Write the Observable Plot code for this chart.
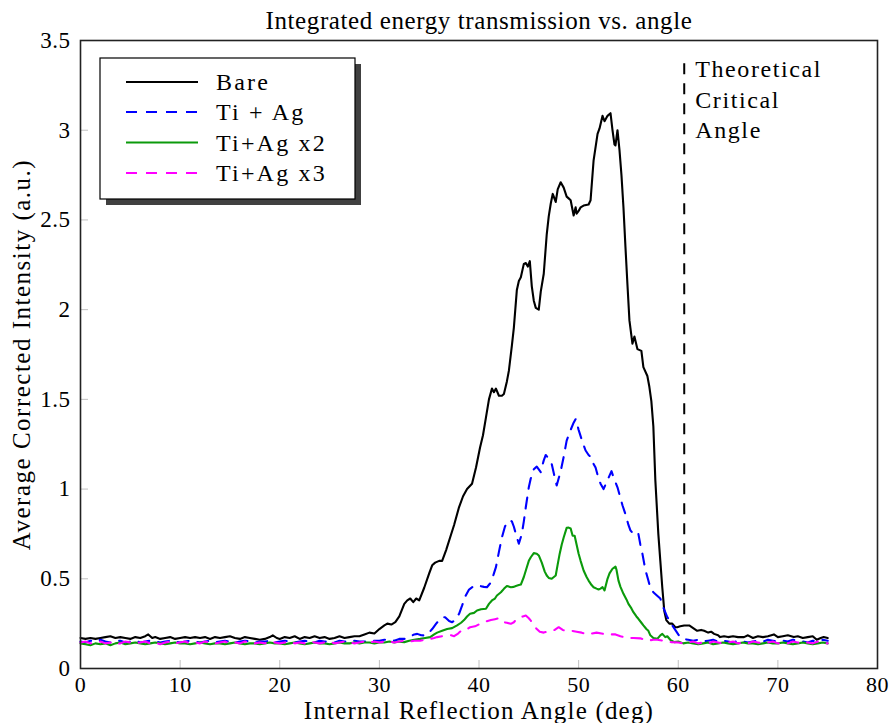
<!DOCTYPE html>
<html>
<head>
<meta charset="utf-8">
<script src="https://cdn.jsdelivr.net/npm/d3@7"></script>
<script src="https://cdn.jsdelivr.net/npm/@observablehq/plot@0.6"></script>
<style>
  html, body { margin: 0; padding: 0; background: #fff; }
  #wrap { position: relative; width: 890px; height: 723px; }
  #wrap svg { position: absolute; left: 0; top: 0; }
  text { letter-spacing: 0.5px; }
</style>
</head>
<body>
<div id="wrap"></div>
<script>
// ---------- data ----------
const titleText = "Integrated energy transmission vs. angle";
const xLabel = "Internal Reflection Angle (deg)";
const yLabel = "Average Corrected Intensity (a.u.)";
const xTicks = [0, 10, 20, 30, 40, 50, 60, 70, 80];
const yTicks = [0, 0.5, 1, 1.5, 2, 2.5, 3, 3.5];
const seriesNames = ["Bare", "Ti + Ag", "Ti+Ag x2", "Ti+Ag x3"];
const criticalAngle = 60.6;
const criticalSpan = [0.3, 3.4];
const criticalText = "Theoretical\nCritical\nAngle";

const bare = [
[0,0.17],[0.5,0.165],[1,0.17],[1.5,0.165],[2,0.17],[2.5,0.175],[3,0.18],[3.5,0.17],[4,0.175],[4.5,0.17],
[5,0.165],[5.5,0.175],[6,0.17],[6.5,0.18],[6.8,0.19],[7.2,0.17],[7.5,0.175],[8,0.165],[8.5,0.17],[9,0.175],
[9.5,0.165],[10,0.17],[10.5,0.175],[11,0.17],[11.5,0.175],[12,0.17],[12.5,0.175],[13,0.165],[13.5,0.175],[14,0.17],
[14.5,0.175],[15,0.18],[15.5,0.17],[16,0.165],[16.5,0.175],[17,0.17],[17.5,0.165],[18,0.16],[18.5,0.165],[19,0.175],
[19.3,0.185],[19.7,0.17],[20,0.165],[20.5,0.175],[21,0.17],[21.5,0.18],[22,0.165],[22.5,0.175],[23,0.17],[23.5,0.18],
[24,0.17],[24.5,0.175],[25,0.165],[25.5,0.17],[26,0.18],[26.5,0.17],[27,0.175],[27.5,0.18],[28,0.18],[28.5,0.19],
[29,0.2],[29.5,0.195],[30,0.22],[30.5,0.24],[30.8,0.25],[31.2,0.245],[31.6,0.258],[32,0.29],[32.5,0.36],[32.8,0.38],
[33.1,0.39],[33.4,0.37],[33.7,0.39],[34,0.38],[34.5,0.45],[35,0.53],[35.3,0.575],[35.6,0.59],[36,0.6],[36.3,0.6],
[36.7,0.66],[37.1,0.73],[37.5,0.8],[38,0.9],[38.4,0.96],[38.8,1.0],[39.3,1.03],[39.7,1.12],[40.1,1.23],[40.4,1.3],
[40.7,1.4],[41,1.5],[41.3,1.56],[41.5,1.54],[41.7,1.56],[42,1.52],[42.3,1.52],[42.5,1.53],[42.8,1.6],[43,1.66],
[43.3,1.8],[43.5,1.9],[43.8,2.11],[44,2.16],[44.2,2.18],[44.5,2.255],[44.7,2.26],[44.9,2.24],[45.1,2.27],[45.3,2.13],
[45.5,2.05],[45.7,2.01],[46,2.0],[46.2,2.1],[46.5,2.2],[46.8,2.42],[47,2.52],[47.2,2.59],[47.4,2.645],[47.7,2.6],
[47.9,2.67],[48.2,2.71],[48.5,2.68],[48.8,2.63],[49,2.62],[49.2,2.61],[49.5,2.525],[49.7,2.57],[49.8,2.535],[50,2.55],
[50.2,2.57],[50.5,2.58],[51,2.586],[51.2,2.61],[51.5,2.83],[51.9,2.98],[52.1,3.01],[52.4,3.08],[52.6,3.05],[52.9,3.08],
[53.2,3.095],[53.4,3.0],[53.6,2.92],[53.7,2.915],[53.9,3.0],[54.1,2.89],[54.3,2.75],[54.5,2.57],[54.7,2.35],[54.9,2.14],
[55.1,1.94],[55.4,1.81],[55.6,1.85],[55.9,1.78],[56.3,1.77],[56.5,1.68],[56.9,1.63],[57.1,1.57],[57.3,1.49],[57.5,1.35],
[57.7,1.05],[58,0.75],[58.2,0.6],[58.4,0.45],[58.6,0.32],[58.8,0.27],[59.1,0.25],[59.4,0.25],[59.7,0.23],[59.9,0.23],
[60.2,0.235],[60.6,0.24],[61.1,0.24],[61.5,0.225],[61.9,0.21],[62.3,0.215],[62.6,0.21],[63,0.2],[63.3,0.205],[63.6,0.193],
[64,0.185],[64.2,0.175],[64.6,0.18],[65,0.175],[65.5,0.18],[66,0.175],[66.6,0.175],[67,0.185],[67.5,0.17],[68,0.18],
[68.5,0.175],[69,0.18],[69.6,0.19],[70,0.175],[70.5,0.18],[71,0.185],[71.6,0.175],[72,0.18],[72.5,0.17],[73,0.175],
[73.5,0.18],[73.9,0.16],[74.3,0.17],[74.6,0.175],[75,0.17]
];

const tiAg = [
[0,0.15],[0.5,0.145],[1,0.155],[1.5,0.15],[2,0.16],[2.5,0.15],[3,0.145],[3.5,0.15],[4,0.155],[4.5,0.145],
[5,0.15],[5.5,0.155],[6,0.145],[6.5,0.15],[7,0.155],[7.5,0.15],[8,0.145],[8.5,0.15],[9,0.155],[9.5,0.15],
[10,0.145],[10.5,0.15],[11,0.155],[11.5,0.15],[12,0.145],[12.5,0.15],[13,0.155],[13.5,0.145],[14,0.15],[14.5,0.155],
[15,0.15],[15.5,0.145],[16,0.15],[16.5,0.155],[17,0.15],[17.5,0.145],[18,0.15],[18.5,0.15],[19,0.155],[19.5,0.145],
[20,0.15],[20.5,0.155],[21,0.15],[21.5,0.145],[22,0.15],[22.5,0.155],[23,0.15],[23.5,0.145],[24,0.155],[24.5,0.15],
[25,0.15],[25.5,0.145],[26,0.155],[26.5,0.15],[27,0.15],[27.5,0.155],[28,0.15],[28.5,0.15],[29,0.15],[29.5,0.155],
[30,0.155],[30.5,0.16],[31,0.16],[31.5,0.155],[32,0.165],[32.5,0.165],[33,0.175],[33.5,0.19],[33.8,0.193],[34.2,0.185],
[34.6,0.184],[35,0.2],[35.3,0.22],[35.7,0.25],[36,0.27],[36.3,0.285],[36.6,0.286],[37,0.265],[37.3,0.258],[37.6,0.27],
[38,0.305],[38.3,0.35],[38.6,0.4],[39,0.44],[39.5,0.46],[40.1,0.46],[40.5,0.455],[40.8,0.453],[41.2,0.48],[41.5,0.53],
[41.7,0.565],[42,0.65],[42.3,0.73],[42.6,0.79],[42.8,0.815],[43.1,0.825],[43.3,0.82],[43.5,0.79],[43.7,0.75],[44,0.695],
[44.3,0.75],[44.5,0.82],[44.7,0.9],[45,1.01],[45.2,1.06],[45.5,1.11],[45.8,1.125],[46,1.11],[46.2,1.094],[46.3,1.12],
[46.5,1.16],[46.7,1.19],[47,1.17],[47.3,1.14],[47.6,1.066],[47.8,1.02],[48,1.06],[48.2,1.1],[48.5,1.18],[48.8,1.27],
[49.2,1.33],[49.5,1.37],[49.7,1.39],[50,1.33],[50.4,1.26],[50.7,1.215],[51,1.19],[51.2,1.18],[51.5,1.14],[51.7,1.12],
[52,1.06],[52.2,1.03],[52.5,1.0],[52.9,1.05],[53.3,1.1],[53.5,1.066],[53.9,1.01],[54.2,0.95],[54.4,0.91],[54.7,0.86],
[55,0.8],[55.2,0.77],[55.5,0.75],[55.7,0.74],[56,0.75],[56.2,0.69],[56.4,0.64],[56.7,0.55],[57,0.49],[57.2,0.45],
[57.5,0.425],[57.8,0.41],[58,0.4],[58.2,0.39],[58.5,0.34],[58.9,0.286],[59.1,0.27],[59.4,0.24],[59.7,0.215],[60,0.19],
[60.2,0.175],[60.5,0.165],[61,0.16],[61.5,0.155],[62,0.16],[62.5,0.15],[63,0.155],[63.5,0.16],[64,0.15],[64.5,0.155],
[65,0.15],[65.5,0.145],[66,0.155],[66.5,0.15],[67,0.145],[67.5,0.15],[68,0.155],[68.5,0.15],[69,0.16],[69.5,0.155],
[70,0.15],[70.5,0.155],[71,0.15],[71.5,0.16],[72,0.155],[72.5,0.15],[73,0.145],[73.5,0.155],[74,0.15],[74.5,0.16],[75,0.155]
];

const tiAg2 = [
[0,0.14],[0.5,0.135],[1,0.13],[1.5,0.14],[2,0.135],[2.5,0.14],[3,0.13],[3.5,0.14],[4,0.145],[4.5,0.135],
[5,0.14],[5.5,0.145],[6,0.14],[6.5,0.135],[7,0.14],[7.5,0.145],[8,0.14],[8.5,0.135],[9,0.14],[9.5,0.145],
[10,0.14],[10.5,0.14],[11,0.135],[11.5,0.14],[12,0.145],[12.5,0.14],[13,0.135],[13.5,0.14],[14,0.14],[14.5,0.135],
[15,0.14],[15.5,0.145],[16,0.14],[16.5,0.135],[17,0.14],[17.5,0.14],[18,0.135],[18.5,0.14],[19,0.145],[19.5,0.14],
[20,0.14],[20.5,0.135],[21,0.14],[21.5,0.145],[22,0.14],[22.5,0.135],[23,0.14],[23.5,0.145],[24,0.14],[24.5,0.14],
[25,0.135],[25.5,0.14],[26,0.145],[26.5,0.14],[27,0.14],[27.5,0.145],[28,0.14],[28.5,0.145],[29,0.145],[29.5,0.14],
[30,0.145],[30.5,0.145],[31,0.15],[31.5,0.145],[32,0.15],[32.5,0.147],[33,0.155],[33.5,0.16],[34.1,0.165],[34.6,0.17],
[35.1,0.175],[35.5,0.19],[35.8,0.2],[36.3,0.21],[36.8,0.22],[37.3,0.225],[37.8,0.24],[38.2,0.255],[38.5,0.27],[38.8,0.29],
[39.1,0.305],[39.5,0.31],[39.8,0.323],[40.2,0.33],[40.7,0.333],[41,0.36],[41.3,0.379],[41.6,0.39],[41.8,0.407],[42.2,0.425],
[42.5,0.444],[42.8,0.46],[43.2,0.453],[43.5,0.455],[43.7,0.46],[44,0.465],[44.2,0.468],[44.5,0.51],[44.7,0.546],[45,0.6],
[45.2,0.62],[45.5,0.643],[45.8,0.64],[46,0.63],[46.3,0.59],[46.6,0.54],[46.8,0.518],[47,0.505],[47.3,0.5],[47.7,0.518],
[47.9,0.58],[48.1,0.64],[48.3,0.69],[48.5,0.73],[48.8,0.784],[49,0.785],[49.2,0.78],[49.4,0.74],[49.6,0.74],[49.8,0.69],
[50,0.64],[50.2,0.6],[50.5,0.546],[50.8,0.51],[51,0.49],[51.3,0.465],[51.5,0.453],[51.8,0.445],[52,0.44],[52.2,0.445],
[52.4,0.453],[52.6,0.435],[52.9,0.5],[53.1,0.53],[53.4,0.556],[53.7,0.568],[53.8,0.55],[54,0.49],[54.2,0.455],[54.5,0.416],
[54.8,0.385],[55,0.36],[55.3,0.335],[55.5,0.314],[55.8,0.29],[56,0.277],[56.3,0.255],[56.5,0.24],[56.8,0.22],[57,0.21],
[57.2,0.185],[57.5,0.17],[57.9,0.165],[58.2,0.185],[58.4,0.193],[58.7,0.175],[58.9,0.18],[59.2,0.16],[59.6,0.147],[60,0.15],
[60.5,0.14],[61,0.145],[61.5,0.14],[62,0.135],[62.5,0.14],[63,0.145],[63.5,0.135],[64,0.14],[64.5,0.145],[65,0.14],
[65.5,0.135],[66,0.14],[66.5,0.145],[67,0.14],[67.5,0.14],[68,0.135],[68.5,0.14],[69,0.145],[69.5,0.14],[70,0.14],
[70.5,0.145],[71,0.14],[71.5,0.135],[72,0.14],[72.5,0.145],[73,0.14],[73.5,0.135],[74,0.14],[74.5,0.145],[75,0.14]
];

const tiAg3 = [
[0,0.145],[0.5,0.15],[1,0.14],[1.5,0.145],[2,0.15],[2.5,0.14],[3,0.145],[3.5,0.135],[4,0.14],[4.5,0.15],
[5,0.145],[5.5,0.14],[6,0.145],[6.5,0.15],[7,0.14],[7.5,0.145],[8,0.135],[8.5,0.145],[9,0.15],[9.5,0.14],
[10,0.145],[10.5,0.15],[11,0.14],[11.5,0.145],[12,0.14],[12.5,0.15],[13,0.145],[13.5,0.14],[14,0.145],[14.5,0.15],
[15,0.14],[15.5,0.145],[16,0.14],[16.5,0.15],[17,0.145],[17.5,0.14],[18,0.145],[18.5,0.14],[19,0.15],[19.5,0.145],
[20,0.14],[20.5,0.145],[21,0.15],[21.5,0.14],[22,0.145],[22.5,0.14],[23,0.15],[23.5,0.145],[24,0.14],[24.5,0.145],
[25,0.15],[25.5,0.14],[26,0.145],[26.5,0.15],[27,0.145],[27.5,0.14],[28,0.145],[28.5,0.15],[29,0.145],[29.5,0.15],
[30,0.145],[30.5,0.15],[31,0.15],[31.5,0.145],[32,0.15],[32.5,0.155],[33,0.15],[33.5,0.155],[34.1,0.155],[34.6,0.16],
[35.1,0.165],[35.5,0.17],[35.8,0.175],[36.3,0.18],[36.8,0.184],[37.2,0.185],[37.5,0.18],[37.9,0.195],[38.2,0.21],[38.5,0.22],
[38.8,0.22],[39.1,0.23],[39.6,0.235],[40.1,0.249],[40.6,0.26],[41.2,0.27],[41.6,0.275],[42,0.28],[42.3,0.265],[42.5,0.258],
[42.8,0.255],[43.2,0.249],[43.5,0.258],[43.8,0.277],[44,0.282],[44.4,0.29],[44.7,0.295],[45,0.28],[45.2,0.267],[45.5,0.24],
[45.8,0.22],[46.1,0.205],[46.5,0.2],[46.8,0.205],[47.2,0.21],[47.6,0.215],[48,0.23],[48.4,0.215],[48.8,0.21],[49.3,0.21],
[49.8,0.205],[50.3,0.2],[50.8,0.19],[51.3,0.195],[51.8,0.2],[52.3,0.195],[52.8,0.19],[53.3,0.19],[53.7,0.19],[54.2,0.18],
[54.6,0.175],[55,0.17],[55.5,0.17],[56.2,0.168],[56.9,0.155],[57.5,0.16],[57.9,0.16],[58.5,0.155],[59.3,0.147],[60,0.145],
[60.5,0.14],[61,0.145],[61.5,0.15],[62,0.14],[62.5,0.145],[63,0.14],[63.5,0.15],[64,0.145],[64.5,0.14],[65,0.145],
[65.5,0.15],[66,0.14],[66.5,0.145],[67,0.14],[67.5,0.15],[68,0.145],[68.5,0.14],[69,0.145],[69.5,0.15],[70,0.14],
[70.5,0.145],[71,0.14],[71.5,0.15],[72,0.145],[72.5,0.14],[73,0.145],[73.5,0.14],[74,0.15],[74.5,0.145],[75,0.14]
];

// ---------- styling ----------
const FONT = "'Liberation Serif', 'Times New Roman', serif";
const colors = ["#000000", "#0000ff", "#0b9a0b", "#ff00ff"];
const dashes = [null, "11,9", null, "11,9"];
const seriesData = [bare, tiAg, tiAg2, tiAg3];

const W = 890, H = 723, mL = 80, mR = 13, mT = 40, mB = 55;
const plotW = W - mL - mR, plotH = H - mT - mB;

const lineMarks = seriesData.map((s, i) =>
  Plot.line(s, {x: d => d[0], y: d => d[1], stroke: colors[i], strokeWidth: 2.1,
    strokeDasharray: dashes[i] ?? undefined, strokeLinejoin: "round"})
);

const chart = Plot.plot({
  width: W, height: H,
  marginLeft: mL, marginRight: mR, marginTop: mT, marginBottom: mB,
  x: {domain: [0, 80]},
  y: {domain: [0, 3.5]},
  style: {fontFamily: FONT, fontSize: "22px", color: "#000", background: "#fff", overflow: "visible"},
  marks: [
    // inward gray ticks
    Plot.ruleX(xTicks, {x: d => d, insetTop: plotH - 8, stroke: "#c0c0c0", strokeWidth: 1}),
    Plot.ruleY(yTicks, {y: d => d, insetRight: plotW - 8, stroke: "#c0c0c0", strokeWidth: 1}),
    Plot.axisX({ticks: xTicks, tickSize: 0, tickPadding: 8, label: null, tickFormat: d => String(d), fontSize: 22}),
    Plot.axisY({ticks: yTicks, tickSize: 0, tickPadding: 10, label: null, tickFormat: d => String(d), fontSize: 23}),
    ...lineMarks,
    // theoretical critical angle
    Plot.ruleX([criticalAngle], {x: d => d, y1: criticalSpan[0], y2: criticalSpan[1], stroke: "#000",
      strokeWidth: 2, strokeDasharray: "11,9"}),
    Plot.text([criticalText], {x: () => criticalAngle, frameAnchor: "top", dy: 15, dx: 11,
      textAnchor: "start", lineAnchor: "top", lineHeight: 1.27, fontSize: 24, text: d => d}),
    Plot.frame({stroke: "#222", strokeWidth: 1.6}),
    // title and axis labels
    Plot.text([titleText], {frameAnchor: "top", dy: -20, text: d => d, fontSize: 25, lineAnchor: "middle", textAnchor: "middle"}),
    Plot.text([xLabel], {frameAnchor: "bottom", dy: 42, text: d => d, fontSize: 25, lineAnchor: "middle", textAnchor: "middle"}),
    Plot.text([yLabel], {frameAnchor: "left", dx: -59, rotate: -90, text: d => d, fontSize: 25, lineAnchor: "middle", textAnchor: "middle"})
  ]
});
document.getElementById("wrap").appendChild(chart);

// letter spacing to approximate the wider reference typeface
const spacing = new Map([[titleText, "0.6px"], [xLabel, "1.2px"], [yLabel, "1.5px"]]);
d3.select(chart).selectAll("text").each(function() {
  const t = this.textContent;
  if (spacing.has(t)) this.style.letterSpacing = spacing.get(t);
  if (t.startsWith("Theoretical")) this.style.letterSpacing = "1.6px";
});

// ---------- legend (overlay) ----------
const leg = d3.select("#wrap").append("svg")
  .attr("width", W).attr("height", H)
  .style("pointer-events", "none");
const box = {x: 100, y: 58, w: 255, h: 141, shadow: 6};
leg.append("rect").attr("x", box.x + box.shadow).attr("y", box.y + box.shadow)
  .attr("width", box.w).attr("height", box.h).attr("fill", "#404040");
leg.append("rect").attr("x", box.x).attr("y", box.y).attr("width", box.w).attr("height", box.h)
  .attr("fill", "#fff").attr("stroke", "#000").attr("stroke-width", 1.2);
const rowY = [82, 112, 142.5, 173];
seriesNames.forEach((name, i) => {
  leg.append("line").attr("x1", 126).attr("x2", 198).attr("y1", rowY[i]).attr("y2", rowY[i])
    .attr("stroke", colors[i]).attr("stroke-width", 2.1)
    .attr("stroke-dasharray", dashes[i] ? "11,9" : null);
  leg.append("text").attr("x", 216).attr("y", rowY[i]).attr("dy", "0.35em")
    .attr("font-family", FONT).attr("font-size", 24).attr("fill", "#000")
    .style("letter-spacing", "2.2px").text(name);
});
</script>
</body>
</html>
